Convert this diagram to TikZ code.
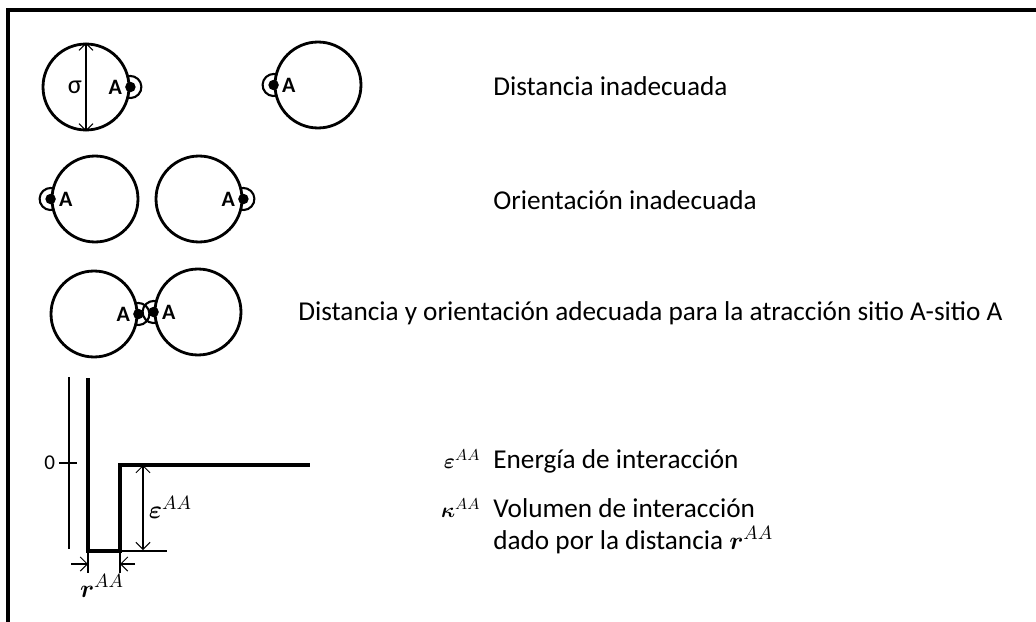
\documentclass[tikz,border=0pt]{standalone}
\usepackage{amsmath,amssymb,bm}
\usepackage{fontspec}
\setmainfont{Carlito}
\usepackage{tikz}
\usetikzlibrary{calc,arrows.meta}

\tikzset{
  molecule/.style={draw,circle,line width=1.6pt,minimum size=1.72cm,inner sep=0pt},
  site/.style={fill,circle,minimum size=0.21cm,inner sep=0pt},
  sitelabel/.style={font=\fontsize{12.5}{14}\selectfont\bfseries,inner sep=1.5pt},
  sitecap/.style={line width=1.2pt},
  caption/.style={anchor=west,inner sep=0pt,font=\fontsize{15.5}{18}\selectfont},
  symbol/.style={anchor=base east,inner sep=0pt,font=\fontsize{13}{15}\selectfont},
  thinline/.style={line width=0.6pt},
  well/.style={line width=2.3pt,line join=miter},
  >={Straight Barb[length=4pt,width=8pt]}
}

\begin{document}
\begin{tikzpicture}[x=0.02cm,y=-0.02cm]
  \useasboundingbox (0,0) rectangle (1036,622);
  \draw[line width=2pt] (1036,10) -- (8,10) -- (8,622);

  % distancia inadecuada
  \node[molecule] (m1) at (86,87) {};
  \node[site] (s1) at (m1.east) {};
  \node[sitelabel,left] at (s1.west) {A};
  \draw[sitecap] ([shift={(110:11)}]s1.center) arc[start angle=110,end angle=-110,radius=11];
  \draw[thinline,<->] (m1.north) -- (m1.south) node[midway,left,inner sep=2pt,font=\fontsize{15}{17}\selectfont] {σ};
  \node[molecule] (m2) at (318,85) {};
  \node[site] (s2) at (m2.west) {};
  \node[sitelabel,right] at (s2.east) {A};
  \draw[sitecap] ([shift={(70:11)}]s2.center) arc[start angle=70,end angle=290,radius=11];
  \node[caption] (t1) at (493,86) {Distancia inadecuada};

  % orientacion inadecuada
  \node[molecule] (m3) at (95,199) {};
  \node[site] (s3) at (m3.west) {};
  \node[sitelabel,right] at (s3.east) {A};
  \draw[sitecap] ([shift={(70:11)}]s3.center) arc[start angle=70,end angle=290,radius=11];
  \node[molecule] (m4) at (199,199) {};
  \node[site] (s4) at (m4.east) {};
  \node[sitelabel,left] at (s4.west) {A};
  \draw[sitecap] ([shift={(110:11)}]s4.center) arc[start angle=110,end angle=-110,radius=11];
  \node[caption] (t2) at (493,200) {Orientación inadecuada};

  % distancia y orientacion adecuada
  \node[molecule] (m5) at (94,314) {};
  \node[site] (s5) at (m5.east) {};
  \node[sitelabel,left] at (s5.west) {A};
  \draw[sitecap] ([shift={(110:11)}]s5.center) arc[start angle=110,end angle=-110,radius=11];
  \node[molecule] (m6) at (198,312) {};
  \node[site] (s6) at (m6.west) {};
  \node[sitelabel,right] at (s6.east) {A};
  \draw[sitecap] ([shift={(70:11)}]s6.center) arc[start angle=70,end angle=290,radius=11];
  \node[caption] (t3) at (298,313) {Distancia y orientación adecuada para la atracción sitio A-sitio A};

  % pozo cuadrado
  \coordinate (axtop) at (69,377);
  \coordinate (axbot) at (69,549);
  \coordinate (zero) at (69,463);
  \draw[thinline] (axtop) -- (axbot);
  \draw[thinline] ($(zero)+(-10,0)$) coordinate (tick) -- ($(zero)+(8,0)$);
  \node[left,font=\fontsize{12}{14}\selectfont,inner sep=2pt] (zlab) at (tick) {0};
  \coordinate (wtop) at (88,378);
  \coordinate (wbl) at (88,551);
  \coordinate (wbr) at (120,551);
  \coordinate (wtr) at (120,465);
  \coordinate (wend) at (310,465);
  \draw[well] (wtop) -- (wbl) -- (wbr) -- (wtr) -- (wend);
  \coordinate (base) at (167,551);
  \draw[thinline] (wbr) -- (base);
  \draw[thinline,<->] (143,465) -- (143,550) node[midway,right,inner sep=3pt,font=\fontsize{15}{17}\selectfont] {$\bm{\varepsilon}^{AA}$};
  \draw[thinline] (wbl) -- ++(0,22);
  \draw[thinline] (wbr) -- ++(0,22);
  \coordinate (rl) at (88,564);
  \coordinate (rr) at (120,564);
  \draw[thinline,->] ($(rl)+(-17,0)$) -- (rl);
  \draw[thinline,->] ($(rr)+(15,0)$) -- (rr);
  \node[inner sep=0pt,font=\fontsize{15}{17}\selectfont] (rlab) at (102,586) {$\bm{r}^{AA}$};

  % leyenda
  \node[caption,anchor=base west] (t4) at (493,468) {Energía de interacción};
  \node[symbol] (eps) at ([xshift=-7pt]t4.base west) {$\bm{\varepsilon}^{AA}$};
  \node[caption,anchor=base west] (t5) at (493,517) {Volumen de interacción};
  \node[symbol] (kap) at ([xshift=-7pt]t5.base west) {$\bm{\kappa}^{AA}$};
  \node[caption,anchor=base west] (t6) at (493,549) {dado por la distancia $\bm{r}^{AA}$};
\end{tikzpicture}
\end{document}
